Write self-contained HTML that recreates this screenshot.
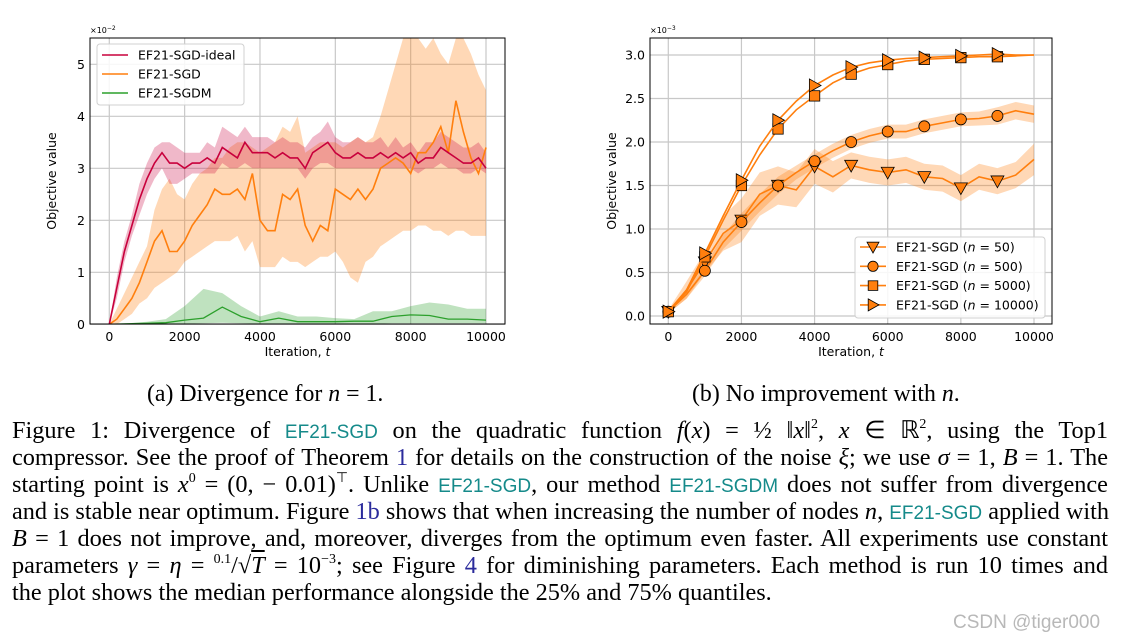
<!DOCTYPE html>
<html><head><meta charset="utf-8">
<style>
body{margin:0;background:#fff;width:1121px;height:644px;overflow:hidden;position:relative;font-family:"Liberation Serif",serif;}
svg text{font-family:"DejaVu Sans","Liberation Sans",sans-serif;}
.cap{position:absolute;font-size:23.8px;color:#000;white-space:nowrap;}
.line{position:absolute;left:12px;width:1096px;font-size:24.3px;line-height:27px;height:27px;text-align:justify;text-align-last:justify;white-space:nowrap;}
.line.last{text-align-last:left;}
sup{line-height:0;font-size:14px;vertical-align:0;position:relative;top:-10px;}
.sf{font-family:"Liberation Sans",sans-serif;color:#158a8a;font-size:19px;}
.ref{color:#2b2b9c;}
i{font-style:italic;}
.wm{position:absolute;left:953px;top:612px;font-family:"Liberation Sans","Noto Sans CJK SC",sans-serif;font-size:19px;color:#b8b8b8;}
</style></head><body>
<svg id="chartA" width="560" height="370" style="position:absolute;left:0;top:0"></svg>
<svg id="chartB" width="1121" height="370" style="position:absolute;left:0;top:0"></svg>

<div class="cap" style="left:147px;top:381px">(a) Divergence for <i>n</i> = 1.</div>
<div class="cap" style="left:692px;top:381px">(b) No improvement with <i>n</i>.</div>

<div>
<div class="line" style="top:417px">Figure 1: Divergence of <span class="sf">EF21-SGD</span> on the quadratic function <i>f</i>(<i>x</i>) = ½ ‖<i>x</i>‖<sup>2</sup>, <i>x</i> ∈ ℝ<sup>2</sup>, using the Top1</div>
<div class="line" style="top:444px">compressor. See the proof of Theorem <span class="ref">1</span> for details on the construction of the noise <i>ξ</i>; we use <i>σ</i> = 1, <i>B</i> = 1. The</div>
<div class="line" style="top:471px">starting point is <i>x</i><sup>0</sup> = (0, − 0.01)<sup>⊤</sup>. Unlike <span class="sf">EF21-SGD</span>, our method <span class="sf">EF21-SGDM</span> does not suffer from divergence</div>
<div class="line" style="top:498px">and is stable near optimum. Figure <span class="ref">1b</span> shows that when increasing the number of nodes <i>n</i>, <span class="sf">EF21-SGD</span> applied with</div>
<div class="line" style="top:525px"><i>B</i> = 1 does not improve, and, moreover, diverges from the optimum even faster. All experiments use constant</div>
<div class="line" style="top:552px">parameters <i>γ</i> = <i>η</i> = <sup>0.1</sup>/√<span style="text-decoration:overline"><i>T</i></span> = 10<sup>−3</sup>; see Figure <span class="ref">4</span> for diminishing parameters. Each method is run 10 times and</div>
<div class="line last" style="top:579px">the plot shows the median performance alongside the 25% and 75% quantiles.</div>
</div>
<div class="wm">CSDN @tiger000</div>

<script>
// ---- Chart A data (x 1e-2) ----
const itersA = [0,200,400,600,800,1000,1200,1400,1600,1800,2000,2200,2400,2600,2800,3000,3200,3400,3600,3800,4000,4200,4400,4600,4800,5000,5200,5400,5600,5800,6000,6200,6400,6600,6800,7000,7200,7400,7600,7800,8000,8200,8400,8600,8800,9000,9200,9400,9600,9800,10000];
const idealMed = [0,0.7,1.4,1.9,2.4,2.8,3.1,3.3,3.1,3.1,3.0,3.1,3.1,3.2,3.1,3.4,3.3,3.2,3.5,3.3,3.3,3.3,3.2,3.3,3.2,3.2,3.0,3.3,3.4,3.5,3.3,3.2,3.2,3.3,3.2,3.2,3.3,3.2,3.3,3.2,3.3,3.1,3.2,3.2,3.4,3.3,3.2,3.1,3.1,3.2,3.0];
const idealLo = [0,0.5,1.2,1.7,2.1,2.5,2.8,3.0,2.7,2.7,2.8,2.9,2.9,2.9,2.9,3.1,3.0,3.0,3.1,3.0,3.0,3.0,3.0,3.0,3.0,3.0,2.8,3.0,3.1,3.1,3.0,3.0,3.0,3.0,3.0,3.0,3.0,3.0,3.0,3.0,3.0,2.9,3.0,3.0,3.1,3.0,3.0,2.9,2.9,3.0,2.9];
const idealHi = [0,0.9,1.6,2.1,2.7,3.1,3.4,3.5,3.5,3.4,3.3,3.3,3.3,3.5,3.4,3.8,3.7,3.6,3.8,3.6,3.6,3.6,3.5,3.6,3.5,3.5,3.4,3.6,3.7,3.9,3.6,3.5,3.5,3.6,3.5,3.5,3.6,3.4,3.6,3.4,3.5,3.3,3.5,3.5,3.7,3.6,3.5,3.4,3.4,3.5,3.3];
const sgdMed = [0,0.1,0.3,0.5,0.8,1.2,1.6,1.8,1.4,1.4,1.6,1.9,2.1,2.3,2.6,2.5,2.5,2.6,2.4,2.9,2.0,1.8,1.8,2.5,2.4,2.6,1.9,1.6,1.9,1.8,2.6,2.5,2.4,2.6,2.4,2.6,3.0,3.1,3.2,3.1,2.9,3.3,3.3,3.5,3.8,3.3,4.3,3.7,3.2,2.9,3.4];
const sgdLo = [0,0,0.1,0.2,0.4,0.5,0.7,0.8,0.9,1.0,1.2,1.3,1.4,1.5,1.6,1.6,1.6,1.7,1.4,1.6,1.1,1.1,1.1,1.3,1.2,1.2,1.1,1.2,1.3,1.3,1.4,1.2,0.9,0.8,1.2,1.3,1.5,1.6,1.7,1.8,1.8,1.9,1.9,1.8,1.8,1.7,1.8,1.8,1.7,1.7,1.7];
const sgdHi = [0,0.3,0.6,0.9,1.2,1.5,2.2,2.6,2.8,2.5,2.4,2.7,2.9,3.0,3.2,3.2,3.4,3.5,3.5,3.4,3.3,3.4,3.5,3.8,3.7,4.0,3.3,3.4,3.5,3.5,3.5,3.4,3.5,3.6,3.5,3.6,4.0,4.5,5.0,5.5,5.5,5.5,5.3,5.5,5.2,5.0,5.5,5.5,5.2,4.8,4.5];
const itersG = [0,500,1000,1500,2000,2500,3000,3500,4000,4500,5000,5500,6000,6500,7000,7500,8000,8500,9000,9500,10000];
const sgdmMed = [0,0.01,0.02,0.03,0.08,0.12,0.33,0.15,0.05,0.12,0.05,0.05,0.05,0.06,0.06,0.15,0.18,0.17,0.1,0.1,0.08];
const sgdmLo = [0,0,0,0,0.01,0.02,0.03,0.02,0.01,0.01,0.01,0.01,0.01,0.01,0.01,0.02,0.02,0.02,0.02,0.02,0.02];
const sgdmHi = [0,0.02,0.05,0.1,0.35,0.68,0.6,0.35,0.15,0.25,0.15,0.15,0.12,0.1,0.25,0.25,0.35,0.42,0.38,0.3,0.3];
const ticksAx = [0,2000,4000,6000,8000,10000];
const ticksAy = [0,1,2,3,4,5];

// ---- Chart B data (x 1e-3) ----
const itersB = [0,500,1000,1500,2000,2500,3000,3500,4000,4500,5000,5500,6000,6500,7000,7500,8000,8500,9000,9500,10000];
const n10000 = [0.05,0.3,0.72,1.15,1.56,1.95,2.25,2.47,2.65,2.77,2.86,2.91,2.94,2.96,2.97,2.98,2.99,3.0,3.01,3.0,3.0];
const n5000 = [0.05,0.28,0.68,1.1,1.5,1.85,2.15,2.37,2.53,2.68,2.78,2.85,2.89,2.93,2.95,2.96,2.97,2.98,2.98,2.99,3.0];
const n500 = [0.05,0.25,0.52,0.85,1.08,1.3,1.5,1.65,1.78,1.9,2.0,2.07,2.12,2.12,2.18,2.22,2.26,2.27,2.3,2.36,2.32];
const n50 = [0.05,0.3,0.62,0.95,1.1,1.4,1.5,1.45,1.72,1.6,1.73,1.68,1.65,1.68,1.6,1.58,1.47,1.6,1.55,1.62,1.8];
const n50Band = [0.02,0.1,0.12,0.2,0.25,0.25,0.22,0.2,0.2,0.18,0.15,0.15,0.15,0.15,0.15,0.15,0.15,0.15,0.15,0.15,0.18];
const n500Band = [0.02,0.05,0.06,0.08,0.1,0.1,0.1,0.08,0.08,0.08,0.08,0.08,0.08,0.08,0.08,0.08,0.08,0.08,0.1,0.1,0.1];
const ticksBx = [0,2000,4000,6000,8000,10000];
const ticksBy = [0,0.5,1.0,1.5,2.0,2.5,3.0];

const NS='http://www.w3.org/2000/svg';
function mk(parent,tag,attrs){const e=document.createElementNS(NS,tag);for(const k in attrs)e.setAttribute(k,attrs[k]);parent.appendChild(e);return e;}

function axesFrame(svg,box,sx,sy,tx,ty,fmt,expLabel){
  const g=mk(svg,'g',{});
  
  
  tx.forEach(v=>{mk(g,'line',{x1:sx(v),x2:sx(v),y1:box.t,y2:box.b,stroke:'#c8c8c8','stroke-width':1.2});
    const t=mk(svg,'text',{x:sx(v),y:box.b+17,'text-anchor':'middle','font-size':12.5,fill:'#000'});t.textContent=v;
    
    });
  ty.forEach(v=>{mk(g,'line',{x1:box.l,x2:box.r,y1:sy(v),y2:sy(v),stroke:'#c8c8c8','stroke-width':1.2});
    const t=mk(svg,'text',{x:box.l-5,y:sy(v)+4.5,'text-anchor':'end','font-size':12.5,fill:'#000'});t.textContent=fmt(v);
    
    });
  const xl=mk(svg,'text',{x:(box.l+box.r)/2,y:box.b+32,'text-anchor':'middle','font-size':12.5});
  xl.innerHTML='Iteration, <tspan font-style="italic">t</tspan>';
  
  
  const yl=mk(svg,'text',{x:0,y:0,'text-anchor':'middle','font-size':12.5,transform:`translate(${box.l-34},${(box.t+box.b)/2}) rotate(-90)`});
  yl.textContent='Objective value';
  
  
  const ex=mk(svg,'text',{x:box.l,y:box.t-5,'font-size':8});ex.innerHTML=expLabel;
  
  
}
function frame(svg,box){const r=mk(svg,'rect',{x:box.l,y:box.t,width:box.r-box.l,height:box.b-box.t,fill:'none',stroke:'#000','stroke-width':1});
  
  }
function linePath(xs,ys,sx,sy){return xs.map((x,i)=>(i?'L':'M')+sx(x).toFixed(1)+','+sy(ys[i]).toFixed(1)).join('');}
function bandPath(xs,lo,hi,sx,sy){let d=xs.map((x,i)=>(i?'L':'M')+sx(x).toFixed(1)+','+sy(hi[i]).toFixed(1)).join('');
  for(let i=xs.length-1;i>=0;i--)d+='L'+sx(xs[i]).toFixed(1)+','+sy(lo[i]).toFixed(1);return d+'Z';}

// Chart A
(function(){
  const svg=document.getElementById('chartA');
  const box={l:90,r:505,t:38,b:324};
  const sx=v=>109.3+(v/10000)*(486-109.3);
  const sy=v=>324.3-v*52;
  const clip=mk(svg,'clipPath',{id:'clipA'});mk(clip,'rect',{x:box.l,y:box.t,width:box.r-box.l,height:box.b-box.t});
  axesFrame(svg,box,sx,sy,ticksAx,ticksAy,v=>v,'×10<tspan dy="-3" font-size="6">−2</tspan>');
  const g=mk(svg,'g',{'clip-path':'url(#clipA)'});
  let p;
  p=mk(g,'path',{d:bandPath(itersA,sgdLo,sgdHi,sx,sy),fill:'#ff7f0e','fill-opacity':0.3});
  
  
  p=mk(g,'path',{d:bandPath(itersA,idealLo,idealHi,sx,sy),fill:'#c8003c','fill-opacity':0.28});
  
  
  p=mk(g,'path',{d:bandPath(itersG,sgdmLo,sgdmHi,sx,sy),fill:'#2ca02c','fill-opacity':0.3});
  
  
  p=mk(g,'path',{d:linePath(itersA,sgdMed,sx,sy),fill:'none',stroke:'#ff7f0e','stroke-width':1.6});
  
  
  p=mk(g,'path',{d:linePath(itersA,idealMed,sx,sy),fill:'none',stroke:'#c8003c','stroke-width':1.6});
  
  
  p=mk(g,'path',{d:linePath(itersG,sgdmMed,sx,sy),fill:'none',stroke:'#2ca02c','stroke-width':1.3});
  
  
  frame(svg,box);
  const lg=mk(svg,'g',{});
  
  
  mk(lg,'rect',{x:97,y:44,width:147,height:61,rx:3,fill:'#fff','fill-opacity':0.85,stroke:'#d0d0d0'});
  [['EF21-SGD-ideal','#c8003c'],['EF21-SGD','#ff7f0e'],['EF21-SGDM','#2ca02c']].forEach((e,i)=>{
    const y=55+i*19;
    mk(lg,'line',{x1:102,x2:128,y1:y,y2:y,stroke:e[1],'stroke-width':1.6});
    const t=mk(lg,'text',{x:138,y:y+4.5,'font-size':12.5});t.textContent=e[0];
    
    
  });
})();

// Chart B
(function(){
  const svg=document.getElementById('chartB');
  const box={l:650,r:1052,t:38,b:324};
  const sx=v=>668.3+(v/10000)*(1034-668.3);
  const sy=v=>316-v*87;
  axesFrame(svg,box,sx,sy,ticksBx,ticksBy,v=>v.toFixed(1),'×10<tspan dy="-3" font-size="6">−3</tspan>');
  const O='#ff7f0e';
  let p;
  const lo50=n50.map((v,i)=>v-n50Band[i]),hi50=n50.map((v,i)=>v+n50Band[i]);
  const lo500=n500.map((v,i)=>v-n500Band[i]),hi500=n500.map((v,i)=>v+n500Band[i]);
  p=mk(svg,'path',{d:bandPath(itersB,lo50,hi50,sx,sy),fill:O,'fill-opacity':0.3});
  
  
  p=mk(svg,'path',{d:bandPath(itersB,lo500,hi500,sx,sy),fill:O,'fill-opacity':0.3});
  
  
  function marker(g,type,x,y,s){
    if(type==='v')return mk(g,'path',{d:`M${x-s},${y-s*0.8}L${x+s},${y-s*0.8}L${x},${y+s}Z`,fill:O,stroke:'#000','stroke-width':0.8});
    if(type==='o')return mk(g,'circle',{cx:x,cy:y,r:s*0.85,fill:O,stroke:'#000','stroke-width':0.8});
    if(type==='s')return mk(g,'rect',{x:x-s*0.8,y:y-s*0.8,width:s*1.6,height:s*1.6,fill:O,stroke:'#000','stroke-width':0.8});
    return mk(g,'path',{d:`M${x-s*0.8},${y-s}L${x+s},${y}L${x-s*0.8},${y+s}Z`,fill:O,stroke:'#000','stroke-width':0.8});
  }
  const series=[['n50',n50,'v'],['n500',n500,'o'],['n5000',n5000,'s'],['n10000',n10000,'>']];
  series.forEach(s=>{
    const g=mk(svg,'g',{});
    
    
    mk(g,'path',{d:linePath(itersB,s[1],sx,sy),fill:'none',stroke:O,'stroke-width':1.6});
    itersB.forEach((x,i)=>{if(x%1000===0&&x<10000){marker(g,s[2],sx(x),sy(s[1][i]),6.5);}});
  });
  frame(svg,box);
  const lg=mk(svg,'g',{});
  
  
  mk(lg,'rect',{x:855,y:237,width:190,height:81,rx:3,fill:'#fff','fill-opacity':0.85,stroke:'#d0d0d0'});
  const labels=['50','500','5000','10000'];
  series.forEach((s,i)=>{
    const y=247+i*19.3;
    mk(lg,'line',{x1:860,x2:886,y1:y,y2:y,stroke:O,'stroke-width':1.6});
    marker(lg,s[2],873,y,6);
    const t=mk(lg,'text',{x:896,y:y+4.5,'font-size':12.5});
    t.innerHTML='EF21-SGD (<tspan font-style="italic">n</tspan> = '+labels[i]+')';
    
    
  });
})();
</script>
</body></html>
